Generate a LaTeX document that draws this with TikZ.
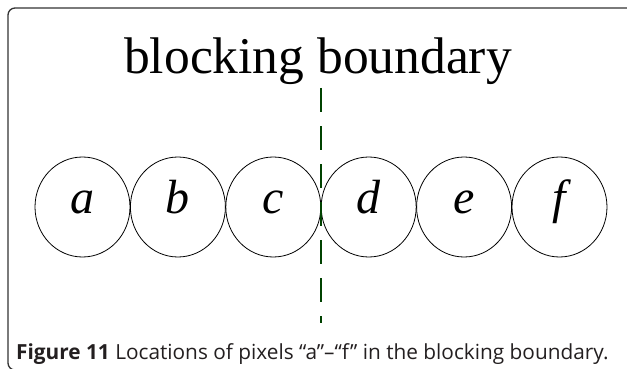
\documentclass[tikz,border=0pt]{standalone}
\usepackage{fontspec}
\setmainfont{Liberation Serif}
\newfontfamily\capfont{Open Sans}
\usetikzlibrary{shapes.geometric}
\definecolor{bndgreen}{RGB}{0,66,0}
\definecolor{capgray}{RGB}{35,31,32}
\tikzset{
  pix/.style={ellipse, draw, line width=0.8pt, minimum width=95pt, minimum height=100pt,
    inner sep=0pt, text height=24pt, text depth=12pt, font=\fontsize{48}{48}\selectfont\itshape},
  boundary/.style={draw=bndgreen, line width=2.8pt, dash pattern=on 24pt off 14pt}
}
\begin{document}
\begin{tikzpicture}[x=1pt, y=-1pt]
  \useasboundingbox (0,0) rectangle (627,369);
  % frame
  \draw[line width=1.3pt, draw=black!80, rounded corners=7pt] (8,8) rectangle (660,370);
  \node[anchor=base, font=\fontsize{51.5}{52}\selectfont] (title) at (318,74) {blocking boundary};
  \foreach \l [count=\i] in {a,b,c,d,e,f}
    \node[pix] (\l) at ({82.5+95.4*(\i-1)}, 207) {\l};
  \coordinate (btop) at (321,88);
  \coordinate (bbot) at (321,323);
  \draw[boundary] (btop) -- (bbot);
  \node[anchor=base west, inner sep=0pt, text=capgray, font=\capfont\fontsize{20.8}{21}\selectfont] (caption) at (16,359)
    {\textbf{Figure 11} Locations of pixels “a”–“f” in the blocking boundary.};
\end{tikzpicture}
\end{document}
